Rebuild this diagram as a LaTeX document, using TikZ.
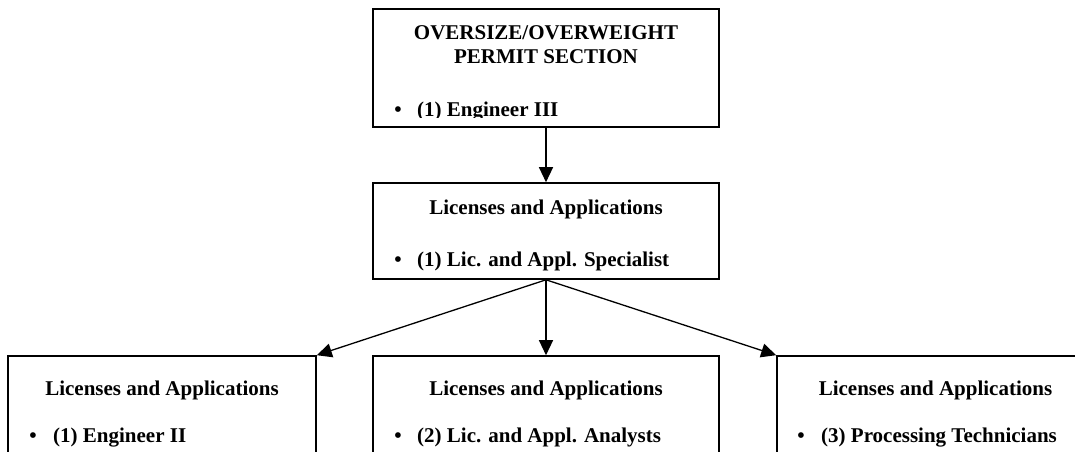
\documentclass[tikz,border=0pt]{standalone}
\usepackage{fontspec}
\setmainfont{Liberation Serif}
\usetikzlibrary{arrows.meta}
\tikzset{
  box/.style={draw, line width=1.6pt, rectangle, inner sep=0pt},
  txt/.style={inner sep=0pt, font=\bfseries\fontsize{21}{21}\selectfont},
  arr/.style={line width=1.3pt, -{Triangle[length=15pt,width=14pt]}}
}
\begin{document}
\begin{tikzpicture}[x=1pt,y=-1pt]
\useasboundingbox (0,0) rectangle (1075,451);
\clip (0,0) rectangle (1075,451);
% boxes
\node[box, minimum width=346pt, minimum height=118pt] (top) at (546,68) {};
\node[box, minimum width=346pt, minimum height=96pt] (lic) at (546,231) {};
\node[box, minimum width=308pt, minimum height=130pt] (b1) at (162,421) {};
\node[box, minimum width=346pt, minimum height=130pt] (b2) at (546,421) {};
\node[box, minimum width=317pt, minimum height=130pt] (b3) at (935.5,421) {};
% top box text
\node[txt, anchor=base] (t1) at (546,39.5) {OVERSIZE/OVERWEIGHT};
\node[txt, anchor=base] (t2) at (546,63.5) {PERMIT SECTION};
\begin{scope}
\clip (top.north west) rectangle ([yshift=10pt]top.south east);
\node[txt, anchor=base] (t3b) at (398,116) {\textbullet};
\node[txt, anchor=base west] (t3) at (417,116) {(1) Engineer III};
\end{scope}
% licenses box text
\node[txt, anchor=base] (l1) at (546,214) {Licenses and Applications};
\node[txt, anchor=base] (l2b) at (398,266) {\textbullet};
\node[txt, anchor=base west] (l2) at (417,266) {(1) Lic. and Appl. Specialist};
% bottom boxes text
\node[txt, anchor=base] (a1) at (162,395) {Licenses and Applications};
\node[txt, anchor=base] (a2b) at (33,442) {\textbullet};
\node[txt, anchor=base west] (a2) at (53,442) {(1) Engineer II};
\node[txt, anchor=base] (c1) at (546,395) {Licenses and Applications};
\node[txt, anchor=base] (c2b) at (398,442) {\textbullet};
\node[txt, anchor=base west] (c2) at (417,442) {(2) Lic. and Appl. Analysts};
\node[txt, anchor=base] (d1) at (935.5,395) {Licenses and Applications};
\node[txt, anchor=base] (d2b) at (801,442) {\textbullet};
\node[txt, anchor=base west] (d2) at (821,442) {(3) Processing Technicians};
% connectors
\draw[arr] (top.south) -- (lic.north);
\draw[arr] (lic.south) -- (b1.north east);
\draw[arr] (lic.south) -- (b2.north);
\draw[arr] (lic.south) -- (b3.north west);
\end{tikzpicture}
\end{document}
